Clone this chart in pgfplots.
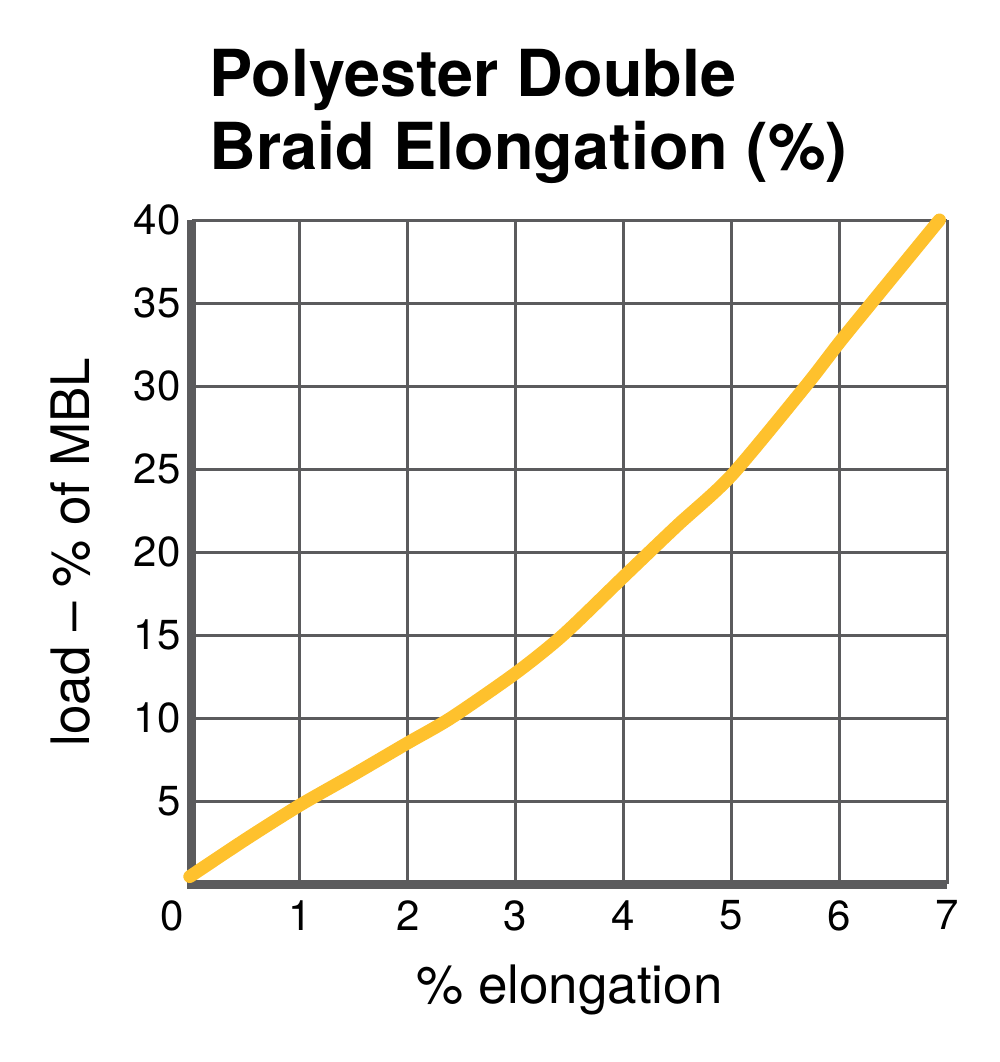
\documentclass[border=0pt]{standalone}
\usepackage{fontspec}
\setmainfont{TeX Gyre Heros}
\usepackage{pgfplots}
\pgfplotsset{compat=1.18}
\definecolor{gridgray}{HTML}{5B5B5D}
\definecolor{ropeyellow}{HTML}{FEC12D}

\begin{document}
\begin{tikzpicture}
\begin{axis}[
  at={(0,0)}, anchor=south west,
  scale only axis,
  width=377.5bp, height=332bp,
  xmin=0, xmax=7, ymin=0, ymax=40,
  xtick={0,...,7}, xticklabels={,1,2,3,4,5,6,7},
  ytick={5,10,...,40},
  major tick length=0pt,
  axis line style={draw=none},
  grid=major,
  major grid style={gridgray, line width=1.5bp},
  tick label style={font=\fontsize{21bp}{25bp}\selectfont, inner sep=0pt},
  xticklabel style={anchor=north, yshift=-8bp},
  yticklabel style={anchor=east, xshift=-5.5bp},
  /pgf/number format/assume math mode=true,
  clip=false,
]
% spines
\draw[gridgray, line width=4.5bp, line join=miter]
  (axis cs:0,40) -- (axis cs:0,0) -- (axis cs:7,0);
% curve
\addplot[ropeyellow, line width=6.5bp, line cap=round, line join=round, smooth, tension=0.45, mark=none]
coordinates {
  (-0.02,0.45) (0.5,2.7) (1,4.75) (1.5,6.6) (2,8.5) (2.4,10) (3,12.7)
  (3.44,15) (4,18.5) (4.5,21.6) (5,24.6) (5.69,30) (6,32.6) (6.3,35) (6.93,40)
};
\end{axis}
% zero tick label, shifted left of the corner
\node[anchor=north, inner sep=0pt, font=\fontsize{21bp}{25bp}\selectfont] at (-10bp,-8bp) {0};
% axis labels
\node[anchor=base, inner sep=0pt, font=\fontsize{26.5bp}{30bp}\selectfont] at (188.75bp,-59.5bp) {\% elongation};
\node[anchor=base, rotate=90, inner sep=0pt, font=\fontsize{26.5bp}{30bp}\selectfont] at (-51bp,166bp) {load – \% of MBL};
% title
\node[anchor=base west, inner sep=0pt, font=\fontsize{32.4bp}{36bp}\bfseries] at (8.5bp,393.5bp) {Polyester Double};
\node[anchor=base west, inner sep=0pt, font=\fontsize{32.4bp}{36bp}\bfseries] at (8.5bp,357bp) {Braid Elongation (\%)};
% page frame
\path[use as bounding box] (-96bp,-89bp) rectangle (404bp,442bp);
\end{tikzpicture}
\end{document}
